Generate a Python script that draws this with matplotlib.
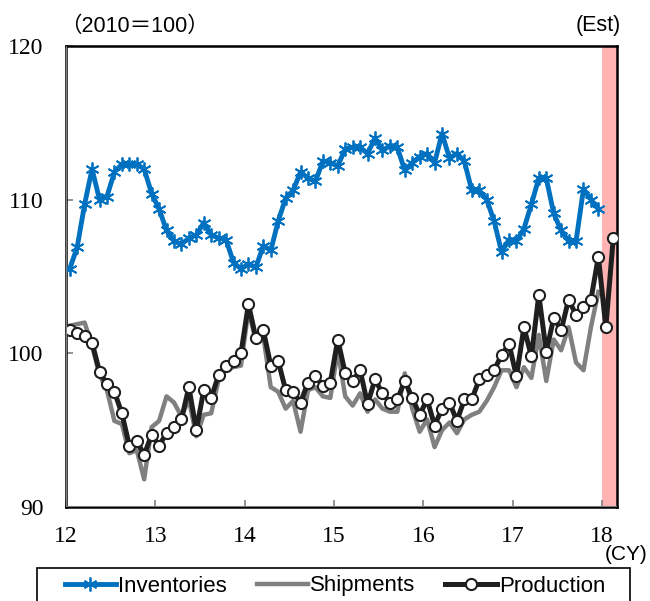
import matplotlib
matplotlib.use("Agg")
import matplotlib.pyplot as plt
import numpy as np
from matplotlib.patches import Rectangle

# monthly indices, Jan 2012 onward (2010=100)
inventories = [105.5, 106.9, 109.7, 112.0, 110.0, 110.2, 111.8, 112.3, 112.3, 112.3, 112.0, 110.4,
               109.4, 108.0, 107.3, 107.1, 107.5, 107.7, 108.5, 107.7, 107.5, 107.4, 105.9, 105.5,
               105.8, 105.6, 107.0, 106.7, 108.6, 110.1, 110.6, 111.8, 111.4, 111.2, 112.5, 112.4,
               112.2, 113.3, 113.4, 113.4, 113.0, 114.0, 113.2, 113.5, 113.4, 111.9, 112.4, 112.8,
               113.0, 112.4, 114.3, 112.7, 113.0, 112.5, 110.6, 110.6, 110.0, 108.6, 106.6, 107.4,
               107.3, 108.1, 109.7, 111.4, 111.4, 109.1, 108.0, 107.3, 107.3, 110.7, 110.0, 109.4]
shipments = [101.8, 101.9, 102.0, 100.5, 98.6, 97.6, 95.6, 95.4, 93.5, 93.7, 91.8, 95.2,
             95.6, 97.2, 96.8, 95.9, 97.0, 94.6, 96.0, 96.1, 98.3, 99.0, 99.1, 99.2,
             102.8, 100.8, 101.1, 97.8, 97.5, 96.4, 96.9, 94.9, 97.6, 97.8, 97.2, 97.1,
             100.2, 97.2, 96.6, 97.4, 96.2, 97.0, 96.4, 96.2, 96.2, 98.7, 96.4, 94.9,
             95.7, 93.9, 95.0, 95.5, 94.8, 95.7, 96.0, 96.2, 96.9, 97.8, 98.9, 98.9,
             97.8, 99.1, 98.4, 101.2, 98.2, 100.9, 100.2, 101.7, 99.4, 98.9, 101.7, 104.0]
production = [101.5, 101.3, 101.1, 100.7, 98.8, 98.0, 97.5, 96.1, 94.0, 94.3, 93.4, 94.7,
              94.0, 94.8, 95.2, 95.7, 97.8, 95.0, 97.6, 97.1, 98.6, 99.2, 99.5, 100.0,
              103.2, 101.0, 101.5, 99.2, 99.5, 97.6, 97.5, 96.8, 98.1, 98.5, 97.9, 98.1,
              100.9, 98.7, 98.2, 98.9, 96.7, 98.3, 97.4, 96.8, 97.0, 98.2, 97.1, 96.0,
              97.0, 95.3, 96.4, 96.8, 95.6, 97.0, 97.0, 98.3, 98.6, 98.9, 99.9, 100.6,
              98.5, 101.7, 99.8, 103.8, 100.1, 102.3, 101.5, 103.5, 102.5, 103.0, 103.5, 106.3,
              101.7, 107.5]

year_ticks = [12, 13, 14, 15, 16, 17, 18]
est_start = 18.0

def months(n):
    return 12 + (np.arange(n) + 0.5) / 12

fig = plt.figure(figsize=(6.5, 6.01), dpi=100)
ax = fig.add_axes([66/650, 1 - 507/601, 551/650, 461/601])

ax.axvspan(est_start, 18 + 2/12, color="#ffb3b3", lw=0, zorder=0)

l1, = ax.plot(months(len(inventories)), inventories, color="#0070c0", lw=3.5,
              marker=(6, 2, 0), ms=10, mew=1.3, label="Inventories", zorder=3)
l2, = ax.plot(months(len(shipments)), shipments, color="#808080", lw=3.2,
              label="Shipments", zorder=2)
l3, = ax.plot(months(len(production)), production, color="#1f1f1f", lw=3.6,
              marker="o", ms=8, mfc="white", mec="#1f1f1f", mew=1.5,
              label="Production", zorder=4)

ax.set_xlim(12, 18 + 2/12)
ax.set_ylim(90, 120)
ax.set_xticks(year_ticks)
ax.set_yticks([90, 100, 110, 120])
ax.tick_params(direction="in", length=5, color="#808080", width=1.2)
ax.tick_params(axis="x", pad=14)
ax.tick_params(axis="y", pad=16)
for lab in ax.get_xticklabels() + ax.get_yticklabels():
    lab.set_family("Liberation Serif")
    lab.set_fontsize(17)
for s in ax.spines.values():
    s.set_color("black")
    s.set_linewidth(1.8)
ax.axvline(12, color="#808080", lw=1.5, zorder=5)
ax.axhline(90, color="#808080", lw=1.5, zorder=5)

fig.text(60/650, 1 - 26/601, "（2010＝100）", fontsize=15.5, va="center", ha="left",
         family=["Liberation Sans", "Noto Sans CJK JP"])
fig.text(621/650, 1 - 26/601, "(Est)", fontsize=15.5, va="center", ha="right",
         family="Liberation Sans")
fig.text(647/650, 1 - 554/601, "(CY)", fontsize=15, va="center", ha="right",
         family="Liberation Sans")

fig.patches.append(Rectangle((37/650, -0.05), 593/650, 0.05 + 1 - 568/601,
                             transform=fig.transFigure, fill=False, ec="black", lw=1.2))
fig.legend(handles=[l1, l2, l3], loc="center", bbox_to_anchor=(335/650, 1 - 586/601),
           ncol=3, frameon=False, handlelength=2.3, handletextpad=0.1, columnspacing=1.35,
           prop={"family": "Liberation Sans", "size": 16})

fig.savefig("out.png", dpi=100)
